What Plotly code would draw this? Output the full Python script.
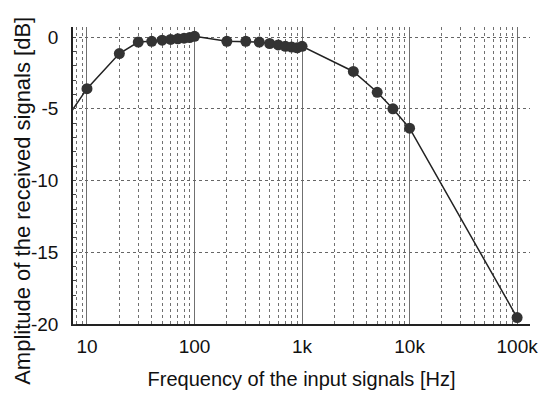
import plotly.graph_objects as go

freq_hz = [5, 10, 20, 30, 40, 50, 60, 70, 80, 90, 100,
           200, 300, 400, 500, 600, 700, 800, 900, 1000,
           3000, 5000, 7000, 10000, 100000]
amp_db = [-6.9, -3.6, -1.15, -0.35, -0.3, -0.22, -0.17, -0.12, -0.08, -0.04, 0.05,
          -0.3, -0.3, -0.35, -0.45, -0.55, -0.65, -0.7, -0.75, -0.65,
          -2.4, -3.85, -5.0, -6.35, -19.55]

x_tickvals = [10, 100, 1000, 10000, 100000]
x_ticktext = ["10", "100", "1k", "10k", "100k"]
y_tickvals = [0, -5, -10, -15, -20]
y_ticktext = ["0", "-5", "-10", "-15", "-20"]

x_title = "Frequency of the input signals [Hz]"
y_title = "Amplitude of the received signals [dB]"

minor_vals = [m * 10 ** e for e in range(0, 6) for m in range(2, 10)]

fig = go.Figure()
fig.add_trace(go.Scatter(
    x=freq_hz, y=amp_db, mode="lines+markers",
    line=dict(color="#222222", width=1.5),
    marker=dict(color="#333333", size=11, line=dict(width=0)),
    cliponaxis=True, showlegend=False,
))

font = "Liberation Sans, Arial, sans-serif"
fig.update_layout(
    width=553, height=398,
    margin=dict(l=73, r=23, t=27, b=74),
    paper_bgcolor="white", plot_bgcolor="white",
    font=dict(family=font, size=19, color="#111111"),
    xaxis=dict(
        type="log", range=[0.87, 5.12],
        tickvals=x_tickvals, ticktext=x_ticktext,
        showgrid=True, gridcolor="#707070", gridwidth=1,
        minor=dict(tickvals=minor_vals, showgrid=True, gridcolor="#707070",
                   griddash="dot", gridwidth=1),
        showline=True, linecolor="#222222", linewidth=1.5,
        ticks="", ticklabelstandoff=4,
        zeroline=False, automargin=False,
        tickfont=dict(size=19),
        title=dict(text=x_title, standoff=16, font=dict(size=20)),
    ),
    yaxis=dict(
        range=[-20, 0.7],
        tickvals=y_tickvals, ticktext=y_ticktext,
        showgrid=True, gridcolor="#666666", griddash="dot", gridwidth=1,
        showline=True, linecolor="#222222", linewidth=1.5,
        ticks="", ticklabelstandoff=9,
        minor=dict(dtick=1, ticks="inside", ticklen=3, tickcolor="#444444", showgrid=False),
        zeroline=False, automargin=False,
        tickfont=dict(size=19),
    ),
    annotations=[dict(
        text=y_title, textangle=-90, showarrow=False,
        xref="paper", yref="paper", x=-0.112, y=0.414,
        xanchor="center", yanchor="middle",
        font=dict(size=22, family=font, color="#111111"),
    )],
)

fig.write_html("out.html")
